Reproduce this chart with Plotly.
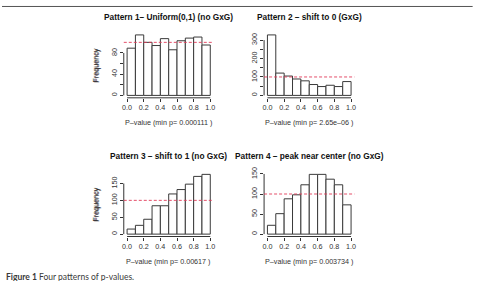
import plotly.graph_objects as go

# ---- data ----
bin_centers = [0.05, 0.15, 0.25, 0.35, 0.45, 0.55, 0.65, 0.75, 0.85, 0.95]
pattern1 = [89, 114, 100, 94, 107, 86, 103, 108, 110, 95]
pattern2 = [328, 121, 105, 89, 79, 59, 48, 55, 48, 75]
pattern3 = [15, 26, 44, 84, 84, 119, 132, 148, 171, 177]
pattern4 = [22, 51, 88, 98, 123, 149, 149, 137, 123, 73]

titles = ["Pattern 1\u2013 Uniform(0,1) (no GxG)",
          "Pattern 2 \u2013 shift to 0 (GxG)",
          "Pattern 3 \u2013 shift to 1 (no GxG)",
          "Pattern 4 \u2013 peak near center (no GxG)"]
xlabels = ["P\u2013value (min p= 0.000111 )",
           "P\u2013value (min p= 2.65e\u201306 )",
           "P\u2013value (min p= 0.00617 )",
           "P\u2013value (min p= 0.003734 )"]
xtick_vals = [0.0, 0.2, 0.4, 0.6, 0.8, 1.0]
xtick_text = ["0.0", "0.2", "0.4", "0.6", "0.8", "1.0"]
ytick_vals = [[0, 20, 40, 60, 80],
              [0, 50, 100, 150, 200, 250, 300],
              [0, 50, 100, 150],
              [0, 50, 100, 150]]
ytick_text = [["0", "", "40", "", "80"],
              ["0", "", "100", "", "200", "", "300"],
              ["0", "50", "100", "150"],
              ["0", "50", "100", "150"]]
expected = 100
caption_bold = "Figure 1"
caption_rest = " Four patterns of p-values."

series = [pattern1, pattern2, pattern3, pattern4]

W, H = 477, 281
# plot regions in pixels (left, right, top, bottom)
cols = [(122.8, 213.4), (264.3, 355.4)]
rows = [(28.0, 94.5), (170.0, 235.7)]

FONT = "Liberation Sans, Arial, sans-serif"
INK = "#333333"

fig = go.Figure()
layout = dict(
    width=W, height=H, margin=dict(l=0, r=0, t=0, b=0),
    paper_bgcolor="white", plot_bgcolor="white", showlegend=False,
    font=dict(family=FONT, size=7, color=INK),
)
shapes = []
annotations = []

for i, vals in enumerate(series):
    r, c = divmod(i, 2)
    xl, xr = cols[c]
    yt, yb = rows[r]
    sfx = "" if i == 0 else str(i + 1)
    xa, ya = "x" + sfx, "y" + sfx
    fig.add_trace(go.Bar(
        x=bin_centers, y=vals, width=0.1, xaxis=xa, yaxis=ya,
        marker=dict(color="white", line=dict(color="#3a3a3a", width=1)),
        hoverinfo="skip"))
    ymax = max(vals)
    layout["xaxis" + sfx] = dict(
        domain=[xl / W, xr / W], anchor=ya, range=[-0.04, 1.04],
        tickvals=xtick_vals, ticktext=xtick_text, ticks="outside",
        ticklen=3, tickwidth=1, tickcolor=INK, showline=False,
        showgrid=False, zeroline=False, tickfont=dict(size=7.2, color=INK))
    layout["yaxis" + sfx] = dict(
        domain=[1 - yb / H, 1 - yt / H], anchor=xa,
        range=[-0.04 * ymax, 1.04 * ymax],
        tickvals=ytick_vals[i], ticktext=ytick_text[i], ticks="outside",
        ticklen=3, tickwidth=1, tickcolor=INK, tickangle=-90,
        showline=False, showgrid=False, zeroline=False,
        tickfont=dict(size=7.2, color=INK))
    # R-style axis lines spanning the tick range
    shapes.append(dict(type="line", xref=xa, yref=ya + " domain",
                       x0=xtick_vals[0], x1=xtick_vals[-1], y0=0, y1=0,
                       line=dict(color=INK, width=1)))
    shapes.append(dict(type="line", xref=xa + " domain", yref=ya,
                       x0=0, x1=0, y0=ytick_vals[i][0], y1=ytick_vals[i][-1],
                       line=dict(color=INK, width=1)))
    # expected-count reference line
    shapes.append(dict(type="line", xref=xa + " domain", yref=ya,
                       x0=0, x1=1, y0=expected, y1=expected,
                       line=dict(color="rgba(225,60,90,0.9)", width=1,
                                 dash="3px,2px")))
    annotations.append(dict(text="<b>" + titles[i] + "</b>",
                            xref=xa + " domain", yref=ya + " domain",
                            x=0.5, y=1, yshift=(yt - (12 if r == 0 else 154.3)),
                            showarrow=False, xanchor="center", yanchor="middle",
                            font=dict(size=8.3, color="#111111", family=FONT)))
    annotations.append(dict(text=xlabels[i],
                            xref=xa + " domain", yref=ya + " domain",
                            x=0.5, y=0, yshift=-(24.5), showarrow=False,
                            xanchor="center", yanchor="middle",
                            font=dict(size=7.2, color=INK, family=FONT)))
    annotations.append(dict(text="Frequency",
                            xref=xa + " domain", yref=ya + " domain",
                            x=0, y=0.5, xshift=-(xl - 95.5),
                            showarrow=False, textangle=-90,
                            xanchor="center", yanchor="middle",
                            font=dict(size=7.2, color=INK, family=FONT)))

# caption
annotations.append(dict(text="<b>" + caption_bold + "</b>" + caption_rest,
                        xref="paper", yref="paper", x=0.004, y=1 - 276.5 / H,
                        showarrow=False, xanchor="left", yanchor="middle",
                        font=dict(size=8.5, color="#3a3a3a",
                                  family="Lato, sans-serif")))
# top frame line
shapes.append(dict(type="line", xref="paper", yref="paper",
                   x0=0, x1=0.995, y0=1 - 1.5 / H, y1=1 - 1.5 / H,
                   line=dict(color="#555555", width=1)))

layout["shapes"] = shapes
layout["annotations"] = annotations
fig.update_layout(**layout)
fig.write_html("out.html")
